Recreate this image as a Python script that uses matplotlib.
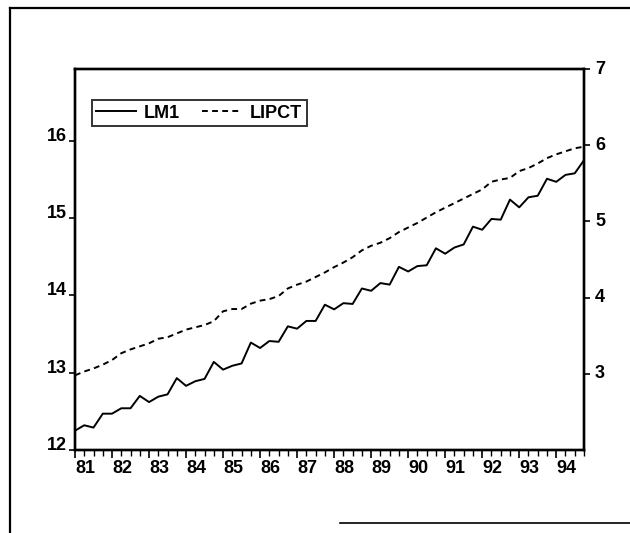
import matplotlib
matplotlib.use("Agg")
import matplotlib.pyplot as plt
from matplotlib.lines import Line2D
import numpy as np

plt.rcParams['font.family'] = ['Liberation Sans', 'DejaVu Sans']
plt.rcParams['font.weight'] = 'bold'

# Quarterly data 1981Q1 - 1994Q4
start_year = 1981
lm1 = [12.25, 12.32, 12.29, 12.47, 12.47, 12.54, 12.54, 12.70,
       12.62, 12.69, 12.72, 12.93, 12.83, 12.89, 12.92, 13.14,
       13.04, 13.09, 13.12, 13.39, 13.32, 13.41, 13.40, 13.60,
       13.57, 13.67, 13.67, 13.88, 13.82, 13.90, 13.89, 14.09,
       14.06, 14.16, 14.14, 14.37, 14.31, 14.38, 14.39, 14.61,
       14.54, 14.62, 14.66, 14.89, 14.85, 14.99, 14.98, 15.24,
       15.14, 15.27, 15.29, 15.51, 15.47, 15.56, 15.58, 15.75]
lipct = [2.98, 3.03, 3.07, 3.12, 3.18, 3.27, 3.32, 3.36,
         3.40, 3.46, 3.48, 3.53, 3.58, 3.61, 3.64, 3.69,
         3.82, 3.85, 3.85, 3.92, 3.96, 3.98, 4.02, 4.12,
         4.17, 4.21, 4.27, 4.33, 4.40, 4.46, 4.53, 4.62,
         4.68, 4.72, 4.78, 4.86, 4.92, 4.98, 5.05, 5.12,
         5.18, 5.24, 5.30, 5.36, 5.42, 5.52, 5.55, 5.57,
         5.66, 5.70, 5.76, 5.83, 5.88, 5.92, 5.96, 5.98]
year_labels = ['81', '82', '83', '84', '85', '86', '87', '88', '89', '90',
               '91', '92', '93', '94']
left_ticks = [12, 13, 14, 15, 16]
right_ticks = [3, 4, 5, 6, 7]

t = start_year + np.arange(len(lm1)) / 4.0

W, H = 630, 533
fig = plt.figure(figsize=(W / 100, H / 100), dpi=100)
ax = fig.add_axes([75 / W, 1 - 450 / H, (584 - 75) / W, (450 - 69) / H])
ax2 = ax.twinx()

l1, = ax.plot(t, lm1, color='black', lw=1.4, label='LM1')
l2, = ax2.plot(t, lipct, color='black', lw=1.4, ls=(0, (3.0, 2.2)), label='LIPCT')

ax.set_xlim(t[0], t[-1])
ax.set_ylim(12, 16.93)
ax2.set_ylim(2, 7)

years = np.arange(start_year, start_year + len(year_labels))
ax.set_xticks(years)
ax.set_xticklabels(year_labels, ha='left')
ax.set_xticks(t, minor=True)
ax.tick_params(axis='x', which='major', direction='out', length=6, width=1.2,
               labelsize=13, pad=1.5)
ax.tick_params(axis='x', which='minor', direction='out', length=4, width=1.0)

ax.set_yticks(left_ticks)
ax.set_yticklabels([str(v) for v in left_ticks], va='baseline')
ax.tick_params(axis='y', direction='out', length=4, width=1.2, labelsize=13, pad=2)

ax2.set_yticks(right_ticks)
ax2.set_yticklabels([str(v) for v in right_ticks], va='center')
ax2.tick_params(axis='y', direction='out', length=4, width=1.2, labelsize=13, pad=4)

for a in (ax, ax2):
    for s in a.spines.values():
        s.set_linewidth(1.7)

leg = ax.legend([l1, l2], ['LM1', 'LIPCT'], loc='upper left',
                bbox_to_anchor=(0.033, 0.918), borderaxespad=0, ncol=2,
                frameon=True, fancybox=False, edgecolor='black',
                prop={'size': 13, 'weight': 'bold'},
                handlelength=2.2, handletextpad=0.45, columnspacing=1.2,
                borderpad=0.25)
leg.get_frame().set_linewidth(1.4)

# outer frame
fig.add_artist(Line2D([10 / W, 10 / W], [0, 1 - 8 / H], color='black', lw=1.6))
fig.add_artist(Line2D([10 / W, 1], [1 - 8 / H, 1 - 8 / H], color='black', lw=1.6))
fig.add_artist(Line2D([340 / W, 1], [1 - 523 / H, 1 - 523 / H], color='black', lw=1.2))

fig.savefig('out.png', dpi=100)
